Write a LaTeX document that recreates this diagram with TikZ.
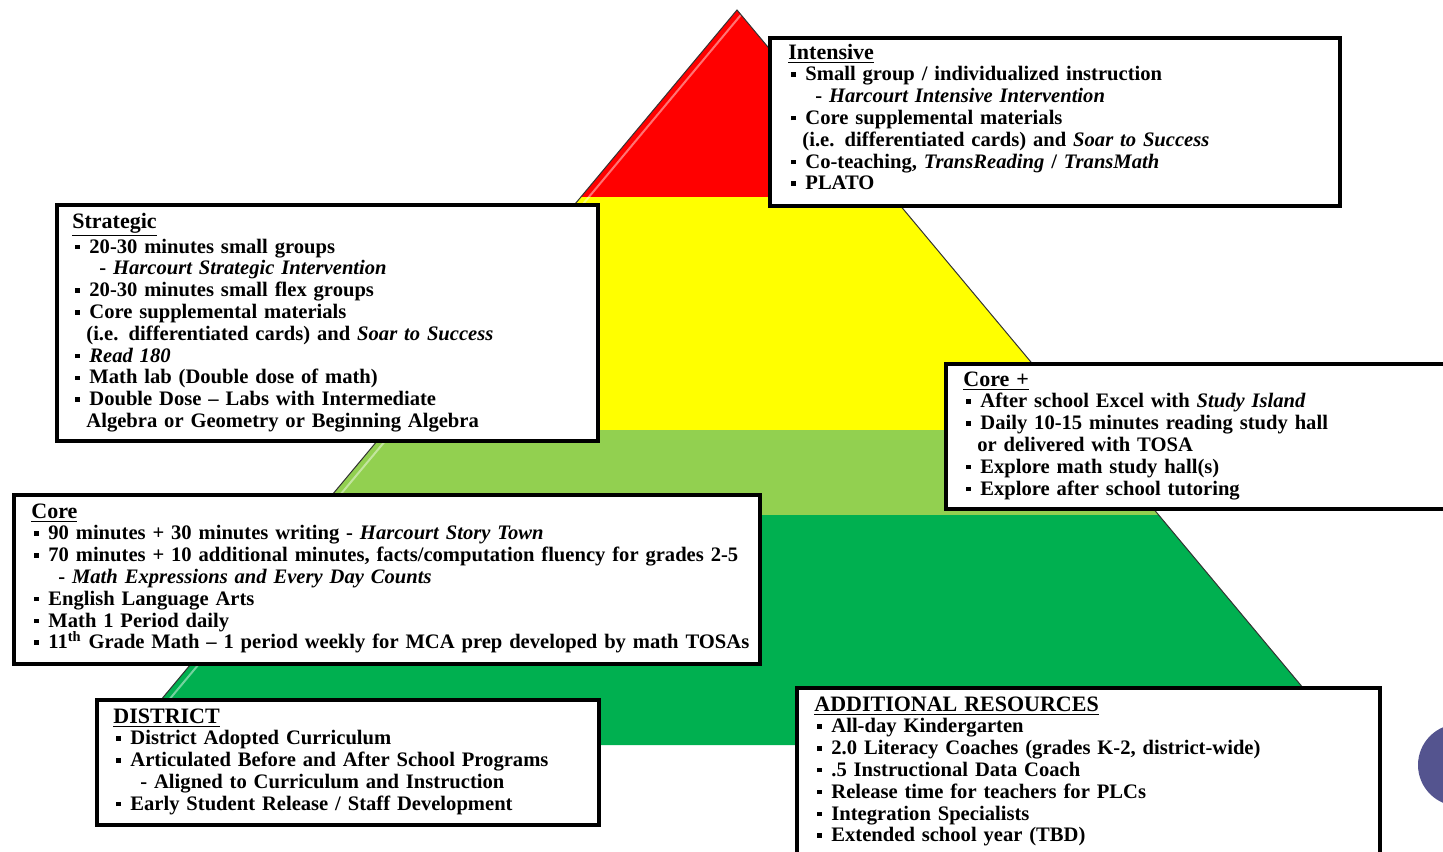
\documentclass[tikz,border=0pt]{standalone}
\usepackage{fontspec}
\setmainfont{Liberation Serif}
\usetikzlibrary{positioning}
\usetikzlibrary{shadows}

\definecolor{tierred}{HTML}{FF0000}
\definecolor{tieryellow}{HTML}{FFFF00}
\definecolor{tierlime}{HTML}{92D050}
\definecolor{tiergreen}{HTML}{00B050}
\definecolor{slate}{HTML}{54548F}

\newcommand{\bul}{\makebox[8.5pt][l]{\hspace{1.5pt}\rule[2pt]{2.2pt}{2.2pt}}}
\newcommand{\subln}{\hspace*{13.5pt}}
\newcommand{\contln}{\hspace*{7pt}}
\newcommand{\tierhead}[1]{{\fontsize{11}{10.9}\selectfont\underline{#1}}}

\begin{document}
\begin{tikzpicture}
		[x=0.5pt, y=-0.5pt,
		tierbox/.style={draw=black, line width=2pt, fill=white, rectangle, inner sep=0pt, anchor=north west,
			drop shadow={opacity=0.25, shadow xshift=1pt, shadow yshift=-1pt}},
		tiertext/.style={anchor=base west, inner sep=0pt, text width=420pt, align=left,
			font=\fontsize{10.3}{10.9}\selectfont\bfseries}]
		\useasboundingbox (0,0) rectangle (1443,851);

		% pyramid
		\coordinate (apex) at (737,10);
		\coordinate (rl) at (580.9,197);  \coordinate (rr) at (893.1,197);
		\coordinate (yl) at (386.3,430);  \coordinate (yr) at (1087.7,430);
		\coordinate (ll) at (315.3,515);  \coordinate (lr) at (1158.7,515);
		\coordinate (gl) at (123.3,745);  \coordinate (gr) at (1350.7,745);
		\fill[tierred] (apex) -- (rr) -- (rl) -- cycle;
		\fill[tieryellow] (rl) -- (rr) -- (yr) -- (yl) -- cycle;
		\fill[tierlime] (yl) -- (yr) -- (lr) -- (ll) -- cycle;
		\fill[tiergreen] (ll) -- (lr) -- (gr) -- (gl) -- cycle;
		\draw[white, opacity=0.45, line width=1pt] ([xshift=4pt]apex) -- ([xshift=4pt]gl);
		\draw[black!80, line width=0.5pt] (gl) -- (apex) -- (gr);

		% tier boxes
		\node[tierbox, minimum width=285pt, minimum height=84pt] (intensivebox) at (768,36) {};
		\node[tierbox, minimum width=270.5pt, minimum height=118pt] (strategicbox) at (55,203) {};
		\node[tierbox, minimum width=260pt, minimum height=72.5pt] (coreplusbox) at (944,362) {};
		\node[tierbox, minimum width=373pt, minimum height=84.5pt] (corebox) at (12,493) {};
		\node[tierbox, minimum width=251pt, minimum height=62.5pt] (districtbox) at (95,698) {};
		\node[tierbox, minimum width=291.5pt, minimum height=90pt] (resourcebox) at (795,686) {};

		\fill[slate] (1459,765) circle (41);

		% texts
		\node[tiertext] (intensivetext) at (788,59) {\tierhead{Intensive}\\
			\bul Small group / individualized instruction\\
			\subln - \textit{Harcourt Intensive Intervention}\\
			\bul Core supplemental materials\\
			\contln(i.e. differentiated cards) and \textit{Soar to Success}\\
			\bul Co-teaching, \textit{TransReading} / \textit{TransMath}\\
			\bul PLATO};
		\node[tiertext] (strategictext) at (72,228) {\tierhead{Strategic}\\
			\bul 20-30 minutes small groups\\
			\subln - \textit{Harcourt Strategic Intervention}\\
			\bul 20-30 minutes small flex groups\\
			\bul Core supplemental materials\\
			\contln(i.e. differentiated cards) and \textit{Soar to Success}\\
			\bul \textit{Read 180}\\
			\bul Math lab (Double dose of math)\\
			\bul Double Dose -- Labs with Intermediate\\
			\contln Algebra or Geometry or Beginning Algebra};
		\node[tiertext] (coreplustext) at (963,386) {\tierhead{Core +}\\
			\bul After school Excel with \textit{Study Island}\\
			\bul Daily 10-15 minutes reading study hall\\
			\contln or delivered with TOSA\\
			\bul Explore math study hall(s)\\
			\bul Explore after school tutoring};
		\node[tiertext] (coretext) at (31,518) {\tierhead{Core}\\
			\bul 90 minutes + 30 minutes writing - \textit{Harcourt Story Town}\\
			\bul 70 minutes + 10 additional minutes, facts/computation fluency for grades 2-5\\
			\subln - \textit{Math Expressions and Every Day Counts}\\
			\bul English Language Arts\\
			\bul Math 1 Period daily\\
			\bul 11\textsuperscript{th} Grade Math -- 1 period weekly for MCA prep developed by math TOSAs};
		\node[tiertext] (districttext) at (113,723) {\tierhead{DISTRICT}\\
			\bul District Adopted Curriculum\\
			\bul Articulated Before and After School Programs\\
			\subln - Aligned to Curriculum and Instruction\\
			\bul Early Student Release / Staff Development};
		\node[tiertext] (resourcetext) at (814,711) {\tierhead{ADDITIONAL RESOURCES}\\
			\bul All-day Kindergarten\\
			\bul 2.0 Literacy Coaches (grades K-2, district-wide)\\
			\bul .5 Instructional Data Coach\\
			\bul Release time for teachers for PLCs\\
			\bul Integration Specialists\\
			\bul Extended school year (TBD)};
	\end{tikzpicture}
\end{document}
